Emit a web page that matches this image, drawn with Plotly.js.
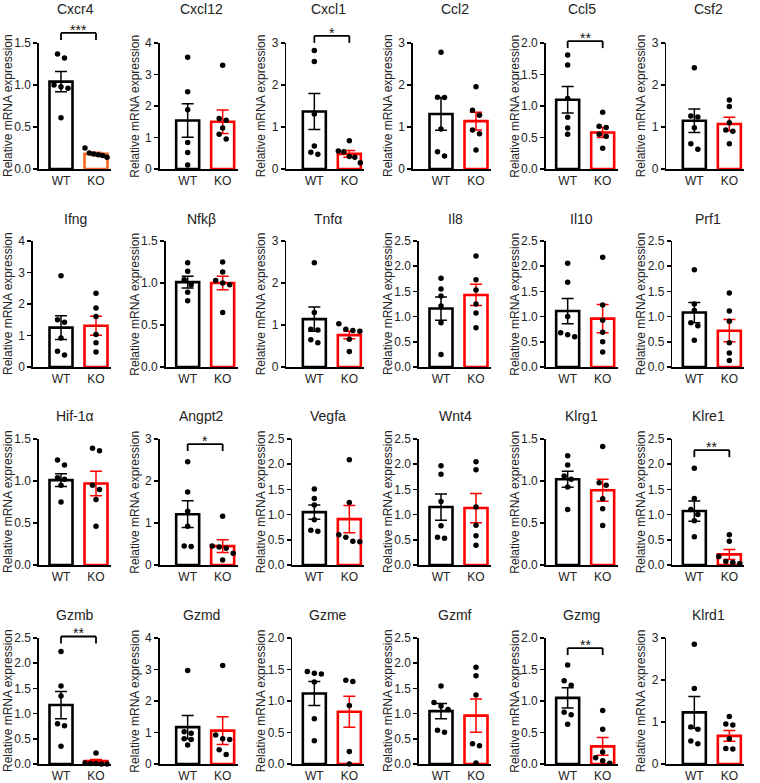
<!DOCTYPE html>
<html><head><meta charset="utf-8">
<script src="https://cdn.plot.ly/plotly-3.0.1.min.js"></script>
<style>html,body{margin:0;padding:0;background:#fff;} #chart{width:760px;height:783px;}</style>
</head><body><div id="chart"></div>
<script>
// ---------------- DATA ----------------
const genes = ['Cxcr4','Cxcl12','Cxcl1','Ccl2','Ccl5','Csf2',
               'Ifng','Nfkβ','Tnfα','Il8','Il10','Prf1',
               'Hif-1α','Angpt2','Vegfa','Wnt4','Klrg1','Klre1',
               'Gzmb','Gzmd','Gzme','Gzmf','Gzmg','Klrd1'];
const groups = ['WT','KO'];
const yMax  = [1.5,4,3,3,2,3, 4,1.5,3,2.5,2.5,2.5, 1.5,3,2.5,2.5,1.5,2.5, 2.5,4,2,2.5,2,3];
const yStep = [0.5,1,1,1,0.5,1, 1,0.5,1,0.5,0.5,0.5, 0.5,1,0.5,0.5,0.5,0.5, 0.5,1,0.5,0.5,0.5,1];
const wtMean = [1.04,1.54,1.37,1.31,1.10,1.15, 1.25,1.01,1.14,1.16,1.11,1.08, 1.01,1.21,1.05,1.15,1.02,1.07, 1.17,1.17,1.12,1.05,1.05,1.23];
const wtSem  = [0.12,0.53,0.43,0.39,0.21,0.28, 0.38,0.07,0.29,0.23,0.25,0.20, 0.075,0.32,0.14,0.26,0.095,0.20, 0.27,0.37,0.19,0.15,0.16,0.38];
const koMean = [0.18,1.50,0.36,1.14,0.58,1.07, 1.31,1.00,0.76,1.43,0.96,0.72, 0.97,0.45,0.91,1.13,0.89,0.21, 0.06,1.06,0.83,0.96,0.28,0.67];
const koSem  = [0.02,0.37,0.08,0.21,0.08,0.16, 0.30,0.08,0.09,0.21,0.28,0.22, 0.145,0.15,0.27,0.29,0.13,0.10, 0.03,0.44,0.245,0.33,0.14,0.13];
const wtPoints = [
  [1.37,1.32,1.0,0.98,0.96,0.61],
  [3.55,2.45,1.88,0.84,0.52,0.13],
  [2.82,2.56,1.31,0.55,0.40,0.35],
  [2.78,1.71,1.70,0.95,0.41,0.31],
  [1.81,1.65,1.12,0.82,0.65,0.55],
  [2.41,1.26,1.24,0.98,0.60,0.47],
  [2.9,1.5,1.42,0.92,0.5,0.38],
  [1.24,1.14,1.04,0.98,0.89,0.79],
  [2.48,1.3,0.9,0.88,0.65,0.58],
  [1.76,1.55,1.41,1.21,0.88,0.25],
  [2.06,1.68,1.0,0.68,0.64,0.6],
  [1.93,1.25,1.12,0.88,0.82,0.53],
  [1.25,1.19,1.04,1.02,0.95,0.75],
  [2.46,1.74,1.28,0.92,0.45,0.44],
  [1.51,1.32,1.19,0.9,0.69,0.67],
  [1.97,1.8,1.26,0.78,0.55,0.53],
  [1.3,1.19,1.06,1.02,0.93,0.66],
  [1.92,1.32,1.1,1.0,0.88,0.56],
  [2.23,1.55,1.35,0.8,0.76,0.35],
  [2.97,1.02,0.98,0.8,0.78,0.6],
  [1.47,1.44,1.43,1.3,0.72,0.37],
  [1.55,1.22,1.15,1.08,0.67,0.63],
  [1.57,1.32,1.25,0.82,0.78,0.63],
  [2.85,1.8,0.88,0.83,0.55,0.48]
];
const koPoints = [
  [0.25,0.19,0.18,0.17,0.16,0.14],
  [3.29,1.6,1.55,1.3,1.1,0.95],
  [0.67,0.43,0.41,0.30,0.28,0.15],
  [1.96,1.40,1.28,0.93,0.84,0.45],
  [0.9,0.68,0.66,0.55,0.52,0.33],
  [1.64,1.49,1.1,0.93,0.9,0.6],
  [2.34,1.87,1.6,1.03,0.77,0.48],
  [1.25,1.13,1.03,1.0,0.98,0.65],
  [1.03,0.9,0.87,0.85,0.66,0.37],
  [2.2,1.73,1.53,1.25,1.07,0.78],
  [2.18,1.23,0.93,0.69,0.5,0.3],
  [1.47,1.11,0.91,0.48,0.28,0.13],
  [1.39,1.36,0.95,0.9,0.78,0.46],
  [1.16,0.45,0.43,0.4,0.28,0.12],
  [2.09,1.24,0.6,0.55,0.47,0.46],
  [2.05,1.89,1.15,0.79,0.58,0.39],
  [1.41,0.98,0.95,0.79,0.67,0.47],
  [0.6,0.47,0.17,0.07,0.05,0.03],
  [0.22,0.02,0.01,0.01,0.0,0.0],
  [3.13,0.92,0.8,0.78,0.45,0.3],
  [1.33,1.31,0.93,0.2,0.0],
  [1.92,1.75,1.37,0.4,0.36,0.02],
  [0.85,0.55,0.19,0.1,0.05,0.01],
  [1.13,0.95,0.93,0.6,0.37,0.36]
];
const sigText  = ['***','','*','','**','', '','','','','','', '','*','','','','**', '**','','','','**',''];
const sigLevel = [1.62,0,3.17,0,2.03,0, 0,0,0,0,0,0, 0,2.88,0,0,0,2.28, 2.53,0,0,0,1.84,0];

// ---------------- LAYOUT GEOMETRY ----------------
const W = 760, H = 783;
const colW = W / 6;
const rowTopPx = [43, 241, 439, 638];
const plotHPx = 126;
const titleYPx = [9, 219, 416, 615];
const wtRel = 61, koRel = 96, endRel = 111;
const pxPerUnit = koRel - wtRel;
const barWidth = 23 / pxPerUnit;
const FONT = 'Liberation Sans, Arial, sans-serif';

function spread(vals, ymax) {
  const pxU = plotHPx / ymax;
  const idx = vals.map((v, k) => k).sort((a, b) => vals[b] - vals[a]);
  const off = new Array(vals.length).fill(0);
  const clusters = []; let cur = [idx[0]];
  for (let k = 1; k < idx.length; k++) {
    if ((vals[idx[k - 1]] - vals[idx[k]]) * pxU < 5.5) cur.push(idx[k]);
    else { clusters.push(cur); cur = [idx[k]]; }
  }
  clusters.push(cur);
  clusters.forEach(cl => {
    const n = cl.length;
    const step = n > 1 ? Math.min(7, 22 / (n - 1)) : 0;
    cl.forEach((id, k) => { off[id] = (k - (n - 1) / 2) * step / pxPerUnit; });
  });
  return off;
}

const traces = [], shapes = [], annotations = [];
const layout = {
  width: W, height: H, margin: {l: 0, r: 0, t: 0, b: 0},
  paper_bgcolor: '#fff', plot_bgcolor: 'rgba(0,0,0,0)',
  showlegend: false, barmode: 'overlay', hovermode: false,
  font: {family: FONT, color: '#222', size: 12}
};

genes.forEach((g, i) => {
  const r = Math.floor(i / 6), c = i % 6;
  const s = i === 0 ? '' : String(i + 1);
  const x0px = c * colW;
  const decimal = yStep[i] < 1;
  const axisRel = decimal ? 39 : 33;
  const xr = [(axisRel - wtRel) / pxPerUnit, (endRel - wtRel) / pxPerUnit];
  const top = rowTopPx[r];
  const koColor = i === 0 ? '#f4661e' : '#ff0000';

  layout['xaxis' + s] = {
    domain: [(x0px + axisRel) / W, (x0px + endRel) / W], range: xr, anchor: 'y' + s,
    tickvals: [0, 1], ticktext: groups, showline: true, linecolor: '#000', linewidth: 1.6,
    ticks: '', showgrid: false, zeroline: false, tickfont: {size: 12, color: '#222'}, fixedrange: true
  };
  layout['yaxis' + s] = {
    domain: [1 - (top + plotHPx) / H, 1 - top / H], range: [0, yMax[i]], anchor: 'x' + s,
    tick0: 0, dtick: yStep[i], tickformat: decimal ? '.1f' : 'd',
    showline: true, linecolor: '#000', linewidth: 1.6, ticks: 'outside', ticklen: 4, tickwidth: 1.6,
    tickcolor: '#000', showgrid: false, zeroline: false, tickfont: {size: 12, color: '#222'}, fixedrange: true
  };

  traces.push({type: 'bar', x: [0], y: [wtMean[i]], width: [barWidth], xaxis: 'x' + s, yaxis: 'y' + s,
    marker: {color: '#fff', line: {color: '#000', width: 2.6}},
    error_y: {type: 'data', array: [wtSem[i]], visible: true, color: '#000', thickness: 1.5, width: 6}});
  traces.push({type: 'bar', x: [1], y: [koMean[i]], width: [barWidth], xaxis: 'x' + s, yaxis: 'y' + s,
    marker: {color: '#fff', line: {color: koColor, width: 2.6}},
    error_y: {type: 'data', array: [koSem[i]], visible: true, color: koColor, thickness: 1.5, width: 6}});

  const wo = spread(wtPoints[i], yMax[i]);
  const ko = spread(koPoints[i], yMax[i]);
  traces.push({type: 'scatter', mode: 'markers', xaxis: 'x' + s, yaxis: 'y' + s, cliponaxis: false,
    x: wtPoints[i].map((v, k) => 0 + wo[k]), y: wtPoints[i],
    marker: {size: 5.5, color: '#000'}});
  traces.push({type: 'scatter', mode: 'markers', xaxis: 'x' + s, yaxis: 'y' + s, cliponaxis: false,
    x: koPoints[i].map((v, k) => 1 + ko[k]), y: koPoints[i],
    marker: {size: 5.5, color: '#000'}});

  // panel title
  annotations.push({text: g, xref: 'paper', yref: 'paper', x: (x0px + 75) / W, y: 1 - titleYPx[r] / H,
    xanchor: 'center', yanchor: 'middle', showarrow: false, borderpad: 0,
    font: {size: 14, color: '#222', family: FONT}});
  // y axis title
  annotations.push({text: 'Relative mRNA expression', textangle: -90, xref: 'paper', x: (x0px + 8) / W,
    yref: 'y' + s + ' domain', y: 0.5, xanchor: 'center', yanchor: 'middle', showarrow: false, borderpad: 0,
    font: {size: 12, color: '#222', family: FONT}});

  if (sigText[i]) {
    const fx0 = (0 - xr[0]) / (xr[1] - xr[0]);
    const fx1 = (1 - xr[0]) / (xr[1] - xr[0]);
    const fy = sigLevel[i] / yMax[i];
    const drop = 7 / plotHPx;
    const xref = 'x' + s + ' domain', yref = 'y' + s + ' domain';
    const ln = {color: '#000', width: 1.8};
    shapes.push({type: 'line', xref, yref, x0: fx0, x1: fx1, y0: fy, y1: fy, line: ln});
    shapes.push({type: 'line', xref, yref, x0: fx0, x1: fx0, y0: fy, y1: fy - drop, line: ln});
    shapes.push({type: 'line', xref, yref, x0: fx1, x1: fx1, y0: fy, y1: fy - drop, line: ln});
    annotations.push({text: sigText[i], xref, yref, x: (fx0 + fx1) / 2, y: fy, xanchor: 'center',
      yanchor: 'middle', yshift: 3, borderpad: 0, showarrow: false,
      font: {size: 14, color: '#111', family: FONT}});
  }
});

layout.shapes = shapes;
layout.annotations = annotations;
Plotly.newPlot('chart', traces, layout, {staticPlot: true, displayModeBar: false});
</script>
</body></html>
